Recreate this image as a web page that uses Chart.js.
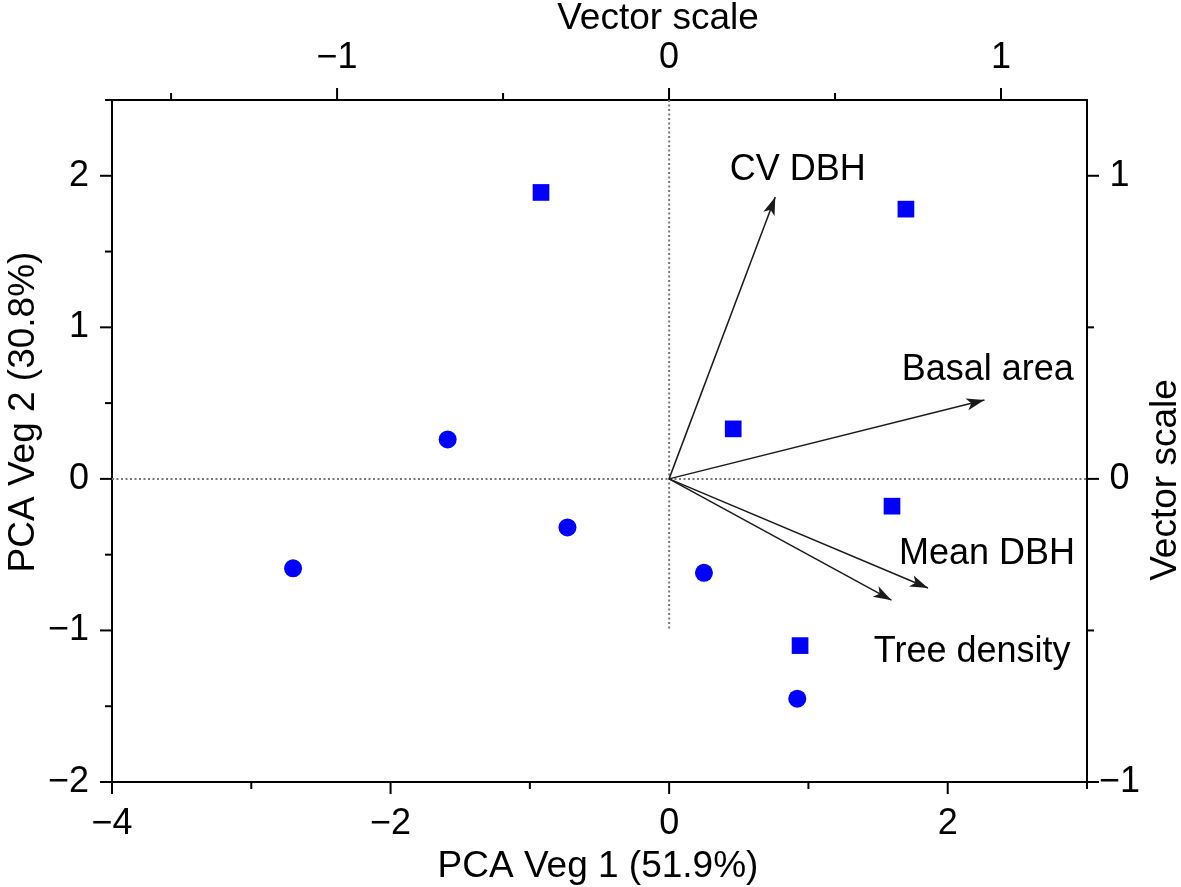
<!DOCTYPE html>
<html>
<head>
<meta charset="utf-8">
<script src="https://cdn.jsdelivr.net/npm/chart.js@4.4.0/dist/chart.umd.min.js"></script>
<style>
    html, body { margin: 0; padding: 0; background: #fff; }
</style>
</head>
<body>
<canvas id="pcaChart" width="1181" height="887"></canvas>
<script>
// site scores (PCA Veg 1 / PCA Veg 2)
const squareX = [-0.92, 1.70, 0.46, 1.60, 0.94];
const squareY = [1.89, 1.78, 0.33, -0.18, -1.10];
const circleX = [-1.59, -2.70, -0.73, 0.25, 0.92];
const circleY = [0.26, -0.59, -0.32, -0.62, -1.45];

// loading vectors (vector scale)
const vectorNames = ["CV DBH", "Basal area", "Mean DBH", "Tree density"];
const vectorX = [0.32, 0.95, 0.78, 0.67];
const vectorY = [0.93, 0.26, -0.36, -0.40];

// where each vector name sits (vector scale units)
const nameX = [0.388, 0.960, 0.958, 0.913];
const nameY = [1.020, 0.360, -0.248, -0.571];

// labelled (major) tick spacing per axis
const majorStep = { x: 2, y: 1, x2: 1, y2: 1 };

const FONT = "'Liberation Sans', Arial, sans-serif";
const BLUE = "#0000ff";

function fmt(v, step) {
    const k = v / step;
    if (Math.abs(k - Math.round(k)) > 1e-6) return "";
    v = Math.round(v);
    return v < 0 ? "\u2212" + Math.abs(v) : String(v);
}

const toPts = (xs, ys) => xs.map((x, i) => ({ x: x, y: ys[i] }));

const datasets = [
    {
        label: "squares",
        data: toPts(squareX, squareY),
        pointStyle: "rect",
        pointRadius: 11.8,
        backgroundColor: BLUE,
        borderWidth: 0
    },
    {
        label: "circles",
        data: toPts(circleX, circleY),
        pointStyle: "circle",
        pointRadius: 9,
        backgroundColor: BLUE,
        borderWidth: 0
    }
];

vectorNames.forEach((name, i) => {
    datasets.push({
        type: "line",
        label: name,
        xAxisID: "x2",
        yAxisID: "y2",
        data: [{ x: 0, y: 0 }, { x: vectorX[i], y: vectorY[i] }],
        borderColor: "#1a1a1a",
        borderWidth: 1.5,
        pointRadius: 0
    });
});

// dotted zero lines
datasets.push({
    type: "line",
    label: "h0",
    data: [{ x: -4, y: 0 }, { x: 3, y: 0 }],
    borderColor: "#777",
    borderWidth: 2,
    borderDash: [2, 2.5],
    pointRadius: 0
});
datasets.push({
    type: "line",
    label: "v0",
    data: [{ x: 0, y: 2.5 }, { x: 0, y: -1 }],
    borderColor: "#777",
    borderWidth: 2,
    borderDash: [2, 2.5],
    pointRadius: 0
});

function axisTicks(id, step, pad) {
    return {
        stepSize: step,
        color: "#000",
        font: { family: FONT, size: 36 },
        padding: pad,
        autoSkip: false,
        maxRotation: 0,
        includeBounds: false,
        callback: v => fmt(v, majorStep[id])
    };
}

const scaleBase = {
    type: "linear",
    grid: { display: false, drawTicks: false },
    border: { display: true, color: "#000", width: 2 }
};

// arrowheads, tick marks, vector names, axis titles
const extras = {
    id: "extras",
    afterDatasetsDraw(chart) {
        const ctx = chart.ctx;
        const sx = chart.scales.x2, sy = chart.scales.y2;
        ctx.save();

        // arrowheads
        ctx.fillStyle = "#1a1a1a";
        vectorX.forEach((vx, i) => {
            const x0 = sx.getPixelForValue(0), y0 = sy.getPixelForValue(0);
            const x1 = sx.getPixelForValue(vx), y1 = sy.getPixelForValue(vectorY[i]);
            const a = Math.atan2(y1 - y0, x1 - x0);
            const len = 18, half = 6;
            ctx.beginPath();
            ctx.moveTo(x1, y1);
            ctx.lineTo(x1 - len * Math.cos(a) + half * Math.sin(a), y1 - len * Math.sin(a) - half * Math.cos(a));
            ctx.lineTo(x1 - 0.75 * len * Math.cos(a), y1 - 0.75 * len * Math.sin(a));
            ctx.lineTo(x1 - len * Math.cos(a) - half * Math.sin(a), y1 - len * Math.sin(a) + half * Math.cos(a));
            ctx.closePath();
            ctx.fill();
        });

        // vector names
        ctx.fillStyle = "#000";
        ctx.font = "36px " + FONT;
        ctx.textAlign = "center";
        ctx.textBaseline = "middle";
        vectorNames.forEach((name, i) => {
            ctx.fillText(name, sx.getPixelForValue(nameX[i]), sy.getPixelForValue(nameY[i]));
        });

        // tick marks pointing outward
        ctx.strokeStyle = "#000";
        ctx.lineWidth = 2;
        ["x", "y", "x2", "y2"].forEach(id => {
            const s = chart.scales[id];
            s.ticks.forEach(t => {
                const len = fmt(t.value, majorStep[id]) !== "" ? 12 : 7;
                const p = s.getPixelForValue(t.value);
                ctx.beginPath();
                if (s.position === "bottom") { ctx.moveTo(p, s.top); ctx.lineTo(p, s.top + len); }
                if (s.position === "top") { ctx.moveTo(p, s.bottom); ctx.lineTo(p, s.bottom - len); }
                if (s.position === "left") { ctx.moveTo(s.right, p); ctx.lineTo(s.right - len, p); }
                if (s.position === "right") { ctx.moveTo(s.left, p); ctx.lineTo(s.left + len, p); }
                ctx.stroke();
            });
        });

        // axis titles
        ctx.font = "37px " + FONT;
        ctx.textBaseline = "alphabetic";
        ctx.textAlign = "center";
        ctx.fillText("PCA Veg 1 (51.9%)", 598, 877);
        ctx.fillText("Vector scale", 658, 29);

        ctx.translate(34, 412);
        ctx.rotate(-Math.PI / 2);
        ctx.fillText("PCA Veg 2 (30.8%)", 0, 0);
        ctx.setTransform(1, 0, 0, 1, 0, 0);

        ctx.translate(1176, 480);
        ctx.rotate(-Math.PI / 2);
        ctx.fillText("Vector scale", 0, 0);
        ctx.restore();
    }
};

const pcaCtx = document.getElementById("pcaChart").getContext("2d");
new Chart(pcaCtx, {
    type: "scatter",
    data: { datasets: datasets },
    options: {
        responsive: false,
        animation: false,
        layout: { padding: 0 },
        plugins: { legend: { display: false }, tooltip: { enabled: false } },
        scales: {
            x: Object.assign({}, scaleBase, {
                position: "bottom", min: -4, max: 3,
                ticks: axisTicks("x", 1, 20),
                afterFit: s => { s.height = 105; }
            }),
            y: Object.assign({}, scaleBase, {
                position: "left", min: -2, max: 2.5,
                ticks: axisTicks("y", 0.5, 23),
                afterFit: s => { s.width = 112; }
            }),
            x2: Object.assign({}, scaleBase, {
                position: "top", min: -1.678, max: 1.259,
                ticks: axisTicks("x2", 0.5, 20),
                afterFit: s => { s.height = 100; }
            }),
            y2: Object.assign({}, scaleBase, {
                position: "right", min: -1, max: 1.25,
                ticks: Object.assign(axisTicks("y2", 0.5, 12), { crossAlign: "center" }),
                afterFit: s => { s.width = 94; }
            })
        }
    },
    plugins: [extras]
});
</script>
</body>
</html>
